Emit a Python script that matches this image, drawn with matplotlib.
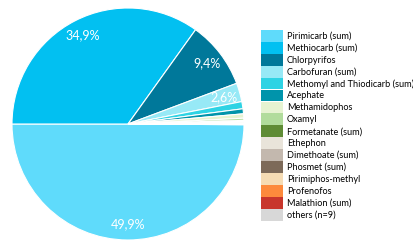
import matplotlib
matplotlib.use("Agg")
import matplotlib.pyplot as plt
from matplotlib.patches import Patch

plt.rcParams["font.family"] = ["Lato", "DejaVu Sans"]

substances = [
    "Pirimicarb (sum)",
    "Methiocarb (sum)",
    "Chlorpyrifos",
    "Carbofuran (sum)",
    "Methomyl and Thiodicarb (sum)",
    "Acephate",
    "Methamidophos",
    "Oxamyl",
    "Formetanate (sum)",
    "Ethephon",
    "Dimethoate (sum)",
    "Phosmet (sum)",
    "Pirimiphos-methyl",
    "Profenofos",
    "Malathion (sum)",
    "others (n=9)",
]
shares = [49.9, 34.9, 9.4, 2.6, 1.0, 0.7, 0.6, 0.3, 0.15, 0.1, 0.1,
          0.05, 0.05, 0.05, 0.05, 0.05]
colors = [
    "#5fdbfb", "#02c0f1", "#00789a", "#97e9f6", "#2ed3e4", "#0094ab",
    "#e6f3d1", "#b1dc9c", "#5f8c35", "#e9e4da", "#c3b8ae", "#7d6a59",
    "#f6dcb4", "#fd8a3c", "#c8362c", "#d8d8d8",
]

W, H = 414, 241
fig = plt.figure(figsize=(W / 100, H / 100), dpi=100)
cx, cy, r = 128, 124, 116
ax = fig.add_axes([(cx - r) / W, (H - cy - r) / H, 2 * r / W, 2 * r / H])


def pct(p):
    return "{:.1f}%".format(p).replace(".", ",") if p > 2 else ""


start = 180 + 360 * shares[0] / sum(shares)
wedges, texts, autotexts = ax.pie(
    shares,
    colors=colors,
    startangle=start,
    counterclock=False,
    autopct=pct,
    pctdistance=0.86,
    wedgeprops=dict(edgecolor="white", linewidth=0.8),
    textprops=dict(color="white", fontsize=9),
)
ax.set_aspect("equal")
ax.set_xlim(-1, 1)
ax.set_ylim(-1, 1)

fs = 6.6
handles = [Patch(facecolor=c, edgecolor="none") for c in colors]
fig.legend(
    handles,
    substances,
    loc="upper left",
    bbox_to_anchor=(261 / W, 1 - 30 / H),
    frameon=False,
    fontsize=fs,
    handlelength=15.8 / fs,
    handleheight=1.6,
    handletextpad=2.9 / fs,
    labelspacing=0.015,
    borderpad=0,
    borderaxespad=0,
)

fig.savefig("out.png", dpi=100)
